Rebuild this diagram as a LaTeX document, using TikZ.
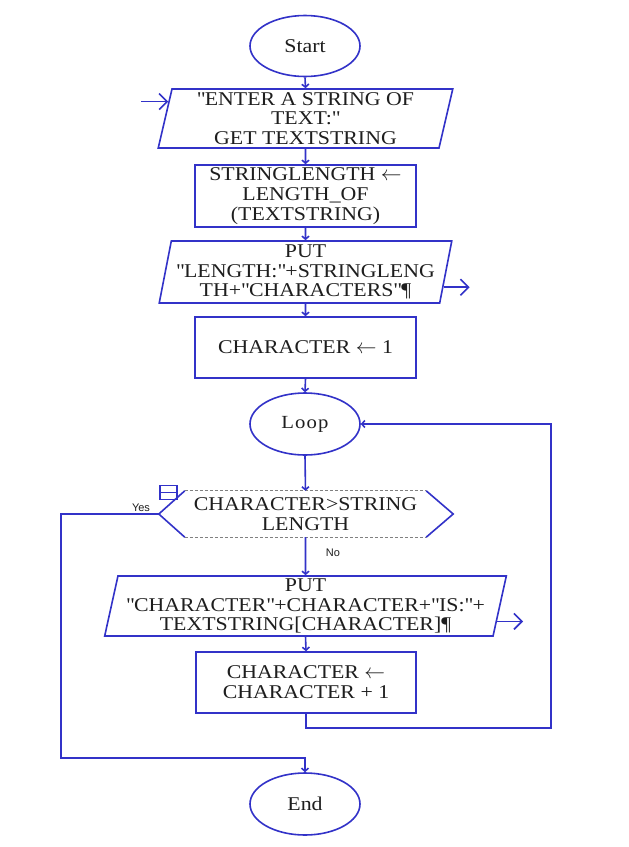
\documentclass[tikz,border=0pt]{standalone}
\usepackage{fontspec}
\setmainfont[FakeStretch=1.12]{Liberation Serif}
\newfontfamily\labelfont{Liberation Sans}
\usetikzlibrary{shapes.geometric,arrows.meta,calc}
\definecolor{lineblue}{RGB}{50,50,200}
\definecolor{txt}{RGB}{30,30,30}
\newcommand\qd{\textquotedbl}
\begin{document}
\begin{tikzpicture}[x=1pt,y=-1pt,
  base/.style={draw=lineblue, line width=1.6pt, align=center, inner sep=0pt, text=txt,
    font=\fontsize{19.5}{19.8}\selectfont},
  term/.style={base, ellipse, minimum width=110pt, minimum height=61pt},
  proc/.style={base, rectangle, minimum width=221pt, minimum height=61pt},
  io/.style={base, trapezium, trapezium left angle=78, trapezium right angle=102,
    trapezium stretches=true},
  conn/.style={draw=lineblue, line width=1.6pt},
  arr/.style={conn, -{Straight Barb[length=3pt,width=7pt]}},
  ioarr/.style={conn, -{Straight Barb[length=8pt,width=16pt]}},
  lbl/.style={text=txt, font=\labelfont\fontsize{11}{11}\selectfont, inner sep=0pt}
]
\useasboundingbox[fill=white] (0,0) rectangle (629,847);

% nodes
\node[term] (start) at (305,46) {Start};
\node[io, minimum width=295pt, minimum height=59pt] (p1) at (305.5,118.5)
  {\qd ENTER A STRING OF\\TEXT:\qd\\GET TEXTSTRING};
\node[proc, minimum height=62pt] (r2) at (305.5,196)
  {STRINGLENGTH $\leftarrow$\\LENGTH\_OF\\(TEXTSTRING)};
\node[io, minimum width=293pt, minimum height=62pt] (p3) at (305.5,272)
  {PUT\\\qd LENGTH:\qd+STRINGLENG\\TH+\qd CHARACTERS\qd¶};
\node[proc] (r4) at (305.5,347.5) {CHARACTER $\leftarrow$ 1};
\node[term, minimum height=62pt, font=\fontsize{18.5}{19.5}\selectfont\addfontfeature{LetterSpace=6}] (loop) at (305,424) {Loop};

% decision
\node[text=txt, font=\fontsize{19.5}{19.8}\selectfont, align=center, inner sep=0pt,
  minimum width=241pt, minimum height=46pt] (dec) at (305.5,514)
  {CHARACTER>STRING\\LENGTH};
\draw[gray, line width=0.7pt, dash pattern=on 3pt off 2pt]
  (dec.north west) -- (dec.north east) (dec.south west) -- (dec.south east);
\draw[conn] (dec.north west) -- ($(dec.west)+(-26,0)$) coordinate (decL) -- (dec.south west);
\draw[conn] (dec.north east) -- ($(dec.east)+(27,0)$) coordinate (decR) -- (dec.south east);
\node[draw=lineblue, line width=1.3pt, minimum width=17pt, minimum height=14pt, inner sep=0pt]
  (icon) at (168.5,492.5) {};
\draw[lineblue, line width=1.3pt] (icon.west) -- (icon.east);
\node[lbl] (yes) at (141,508) {Yes};
\node[lbl] (no) at (333,553) {No};

\node[io, trapezium left angle=77, trapezium right angle=103,
  minimum width=403pt, minimum height=60pt] (p5) at (305.5,606)
  {PUT\\\qd CHARACTER\qd+CHARACTER+\qd IS:\qd+\\TEXTSTRING[CHARACTER]¶};
\node[proc, minimum width=220pt] (r6) at (306,682.5)
  {CHARACTER $\leftarrow$\\CHARACTER + 1};
\node[term, minimum height=62pt] (end) at (305,804) {End};

% main connectors
\draw[arr] (start.south) -- (p1.north);
\draw[arr] (p1.south) -- (r2.north);
\draw[arr] (r2.south) -- (p3.north);
\draw[arr] (p3.south) -- (r4.north);
\draw[arr] (r4.south) -- (loop.north);
\draw[arr] (loop.south) -- (dec.north);
\draw[arr] (dec.south) -- (p5.north);
\draw[arr] (p5.south) -- (r6.north);

% loop back
\coordinate (lb) at (551,728);
\draw[arr] (r6.south) |- (lb) |- (loop.east);

% yes branch
\coordinate (yb) at (61,758);
\draw[arr] (decL) -| (yb) -| (end.north);

% input / output arrows
\coordinate (p1in) at ($(p1.bottom left corner)!0.78!(p1.top left corner)$);
\path (p1in) ++(-27,0) coordinate (in1);
\draw[ioarr] (in1) -- (p1in);
\coordinate (p3o) at ($(p3.bottom right corner)!0.26!(p3.top right corner)$);
\path (p3o) ++(26,0) coordinate (out3);
\draw[ioarr] (p3o) -- (out3);
\coordinate (p5o) at ($(p5.bottom right corner)!0.25!(p5.top right corner)$);
\path (p5o) ++(26,0) coordinate (out5);
\draw[ioarr] (p5o) -- (out5);
\end{tikzpicture}
\end{document}
